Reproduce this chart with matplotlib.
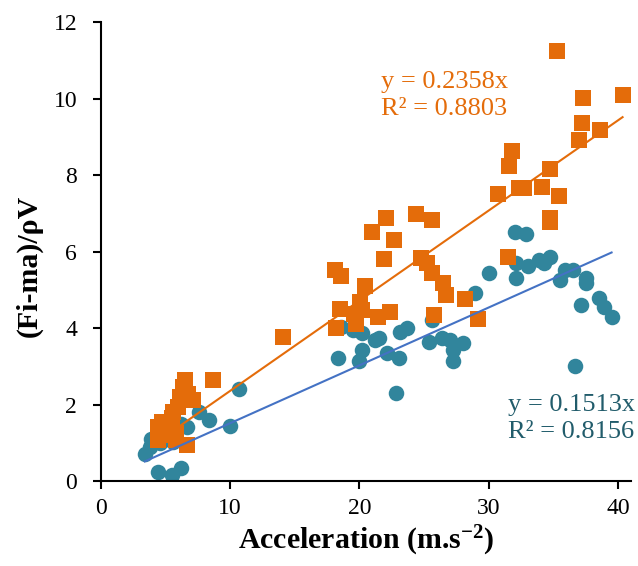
import numpy as np
import matplotlib
matplotlib.use("Agg")
import matplotlib.pyplot as plt

# series 1 (circles)
blue_x = [3.4, 3.8, 3.9, 4.2, 4.6, 5.6, 4.4, 5.5, 6.2, 5.0, 5.8, 6.2, 6.7, 7.6, 8.4, 10.0, 10.7,
          18.35, 18.6, 19.5, 20.0, 20.2, 20.2, 21.2, 21.5, 22.1, 23.05, 23.1, 23.7, 22.8,
          25.6, 25.4, 26.35, 27.0, 27.25, 27.2, 28.0, 28.9, 30.0, 32.0, 32.9, 32.1, 33.0,
          33.9, 34.7, 34.3, 32.1, 35.9, 36.5, 35.5, 37.5, 37.5, 37.1, 38.5, 38.9, 39.5, 36.7]
blue_y = [0.72, 0.90, 1.10, 1.07, 0.99, 1.03, 0.24, 0.16, 0.33, 1.20, 1.30, 1.50, 1.42, 1.80, 1.60, 1.44, 2.40,
          3.21, 4.03, 3.95, 3.15, 3.42, 3.86, 3.70, 3.73, 3.34, 3.23, 3.90, 3.99, 2.31,
          4.21, 3.64, 3.73, 3.69, 3.42, 3.14, 3.60, 4.91, 5.45, 6.52, 6.47, 5.69, 5.62,
          5.78, 5.86, 5.71, 5.30, 5.52, 5.52, 5.27, 5.30, 5.17, 4.60, 4.78, 4.56, 4.30, 3.00]

# series 2 (squares)
orange_x = [4.43, 4.56, 4.43, 4.7, 5.34, 5.47, 5.6, 5.85, 5.85, 5.98, 6.1, 6.37, 6.5, 6.75, 7.14, 6.63, 8.69, 14.1,
            18.1, 18.6, 18.2, 18.5, 19.6, 19.7, 20.05, 20.2, 20.4, 21.0, 21.4, 21.9, 22.05, 22.4, 22.7,
            24.4, 24.8, 25.2, 25.6, 25.6, 25.8, 26.5, 26.7, 28.2, 29.2, 30.7, 31.5, 31.6, 31.8, 32.35,
            32.7, 34.1, 34.7, 34.7, 34.7, 35.4, 35.3, 37.0, 37.2, 37.3, 38.6, 40.35]
orange_y = [1.07, 1.20, 1.42, 1.55, 1.42, 1.64, 1.81, 1.25, 1.07, 1.94, 2.20, 2.47, 2.64, 2.29, 2.12, 0.94, 2.64, 3.77,
            5.52, 5.37, 4.01, 4.49, 4.38, 4.12, 4.69, 4.47, 5.10, 6.52, 4.30, 5.80, 6.87, 4.43, 6.30,
            6.97, 5.84, 5.69, 5.43, 6.82, 4.34, 5.17, 4.86, 4.76, 4.25, 7.50, 5.86, 8.24, 8.64, 7.65,
            7.65, 7.70, 8.15, 6.87, 6.78, 7.46, 11.25, 8.93, 9.35, 10.02, 9.18, 10.10]

blue_slope = 0.1513
orange_slope = 0.2358
blue_label = "y = 0.1513x\nR² = 0.8156"
orange_label = "y = 0.2358x\nR² = 0.8803"

plt.rcParams['font.family'] = ['Liberation Serif', 'DejaVu Serif']
plt.rcParams['mathtext.fontset'] = 'custom'
plt.rcParams['mathtext.rm'] = 'Liberation Serif'
plt.rcParams['mathtext.bf'] = 'Liberation Serif:bold'

fig = plt.figure(figsize=(6.38, 5.66), dpi=100)
ax = fig.add_axes([0.158, 0.150, 0.831, 0.811])

ax.scatter(blue_x, blue_y, s=125, marker='o', color='#31859C', linewidths=0, zorder=2)
ax.scatter(orange_x, orange_y, s=125, marker='s', color='#E46C0A', linewidths=0, zorder=3)

# trendlines through origin
bx = np.array([min(blue_x), max(blue_x)])
ox = np.array([min(orange_x), max(orange_x)])
ax.plot(bx, blue_slope * bx, color='#4472C4', lw=1.5, zorder=4)
ax.plot(ox, orange_slope * ox, color='#E46C0A', lw=1.5, zorder=4)

ax.text(21.7, 9.57, orange_label, color='#E46C0A', fontsize=19, linespacing=1.3)
ax.text(31.5, 1.12, blue_label, color='#215C6B', fontsize=19, linespacing=1.3)

ax.set_xlim(0, 41)
ax.set_ylim(0, 12)
ax.set_xticks([0, 10, 20, 30, 40])
ax.set_yticks([0, 2, 4, 6, 8, 10, 12])
for s in ['top', 'right']:
    ax.spines[s].set_visible(False)
for s in ['left', 'bottom']:
    ax.spines[s].set_linewidth(1.5)
ax.tick_params(direction='out', length=6, width=1.5, labelsize=17)
ax.tick_params(axis='x', pad=6)
ax.tick_params(axis='y', pad=11)

ax.set_xlabel("Acceleration (m.s$\\mathbf{^{-2}}$)", fontsize=21.5, fontweight='bold', labelpad=4)
ax.set_ylabel("(Fi-ma)/ρV", fontsize=21.5, fontweight='bold')
ax.yaxis.set_label_coords(-0.11, 0.468)

fig.savefig("out.png", dpi=100)
